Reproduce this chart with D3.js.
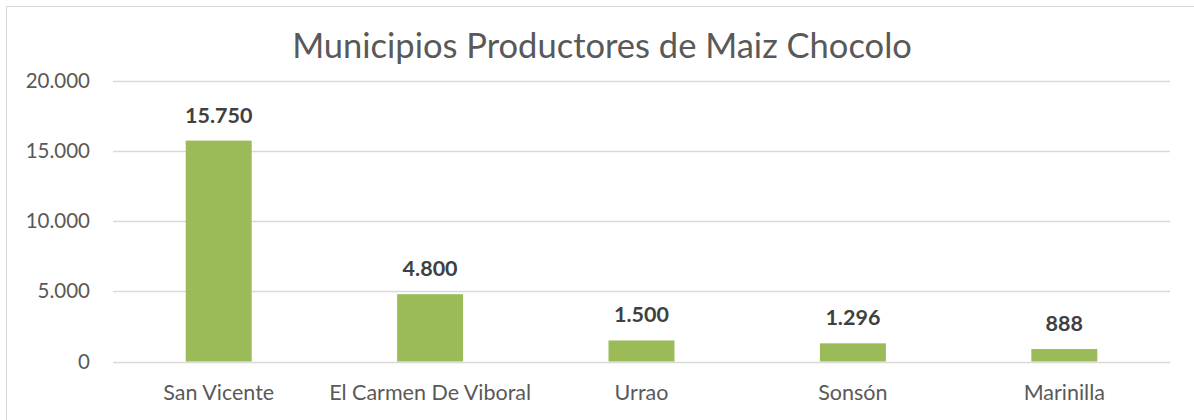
<!DOCTYPE html>
<html>
<head>
<meta charset="utf-8">
<script src="https://cdn.jsdelivr.net/npm/d3@7"></script>
<style>
  body { margin: 0; background: #fff; }
  svg { display: block; font-family: Lato, 'Open Sans', sans-serif; }
</style>
</head>
<body>
<svg id="chart" width="1194" height="420"></svg>
<script>
var municipios = ['San Vicente', 'El Carmen De Viboral', 'Urrao', 'Sonsón', 'Marinilla'];
var produccion = [15750, 4800, 1500, 1296, 888];
var yTicks = [0, 5000, 10000, 15000, 20000];
var TITLE = 'Municipios Productores de Maiz Chocolo';

var WIDTH = 1194;
var HEIGHT = 420;
var MARGINS = { top: 81, right: 24, bottom: 58, left: 113 };

var svg = d3.select('#chart');
var fmt = d3.formatLocale({ decimal: ',', thousands: '.', grouping: [3], currency: ['', ''] }).format(',');

// chart frame (runs off right/bottom like the source)
svg.append('rect')
  .attr('x', 6.5).attr('y', 6.5)
  .attr('width', WIDTH).attr('height', HEIGHT)
  .attr('fill', '#fff')
  .attr('stroke', '#d9d9d9');

var x = d3.scaleBand()
  .domain(municipios)
  .range([MARGINS.left, WIDTH - MARGINS.right])
  .paddingInner(0.688)
  .paddingOuter(0.344);

var y = d3.scaleLinear()
  .domain([0, 20000])
  .range([HEIGHT - MARGINS.bottom - 0.5, MARGINS.top]);

// gridlines
svg.append('g')
  .selectAll('line')
  .data(yTicks)
  .enter()
  .append('line')
  .attr('x1', MARGINS.left)
  .attr('x2', WIDTH - MARGINS.right)
  .attr('y1', function(d) { return Math.round(y(d)) + 0.5; })
  .attr('y2', function(d) { return Math.round(y(d)) + 0.5; })
  .attr('stroke', '#d9d9d9')
  .attr('stroke-width', 1.3);

// y axis labels
var yAxis = d3.axisLeft(y).tickValues(yTicks).tickFormat(fmt).tickSize(0).tickPadding(0);
var gy = svg.append('g')
  .attr('transform', 'translate(90,0)')
  .call(yAxis);
gy.select('.domain').remove();
gy.selectAll('text')
  .attr('font-family', 'Lato, sans-serif')
  .attr('font-size', 20.5)
  .attr('fill', '#595959');

// x axis labels
var xAxis = d3.axisBottom(x).tickSize(0).tickPadding(0);
var gx = svg.append('g')
  .attr('transform', 'translate(0,' + (HEIGHT - MARGINS.bottom + 23) + ')')
  .call(xAxis);
gx.select('.domain').remove();
gx.selectAll('text')
  .attr('font-family', 'Lato, sans-serif')
  .attr('font-size', 21.5)
  .attr('fill', '#595959');

// bars
svg.append('g')
  .selectAll('rect')
  .data(produccion)
  .enter()
  .append('rect')
  .attr('x', function(d, i) { return x(municipios[i]); })
  .attr('y', function(d) { return y(d); })
  .attr('width', x.bandwidth())
  .attr('height', function(d) { return y(0) - y(d); })
  .attr('fill', '#9bbb59');

// data labels
svg.append('g')
  .selectAll('text')
  .data(produccion)
  .enter()
  .append('text')
  .attr('x', function(d, i) { return x(municipios[i]) + x.bandwidth() / 2; })
  .attr('y', function(d) { return y(d) - 18; })
  .attr('text-anchor', 'middle')
  .attr('font-size', 21.5)
  .attr('font-weight', 'bold')
  .attr('fill', '#404040')
  .text(function(d) { return fmt(d); });

// title
svg.append('text')
  .attr('x', 602)
  .attr('y', 58)
  .attr('text-anchor', 'middle')
  .attr('font-size', 34.5)
  .attr('fill', '#595959')
  .text(TITLE);
</script>
</body>
</html>
